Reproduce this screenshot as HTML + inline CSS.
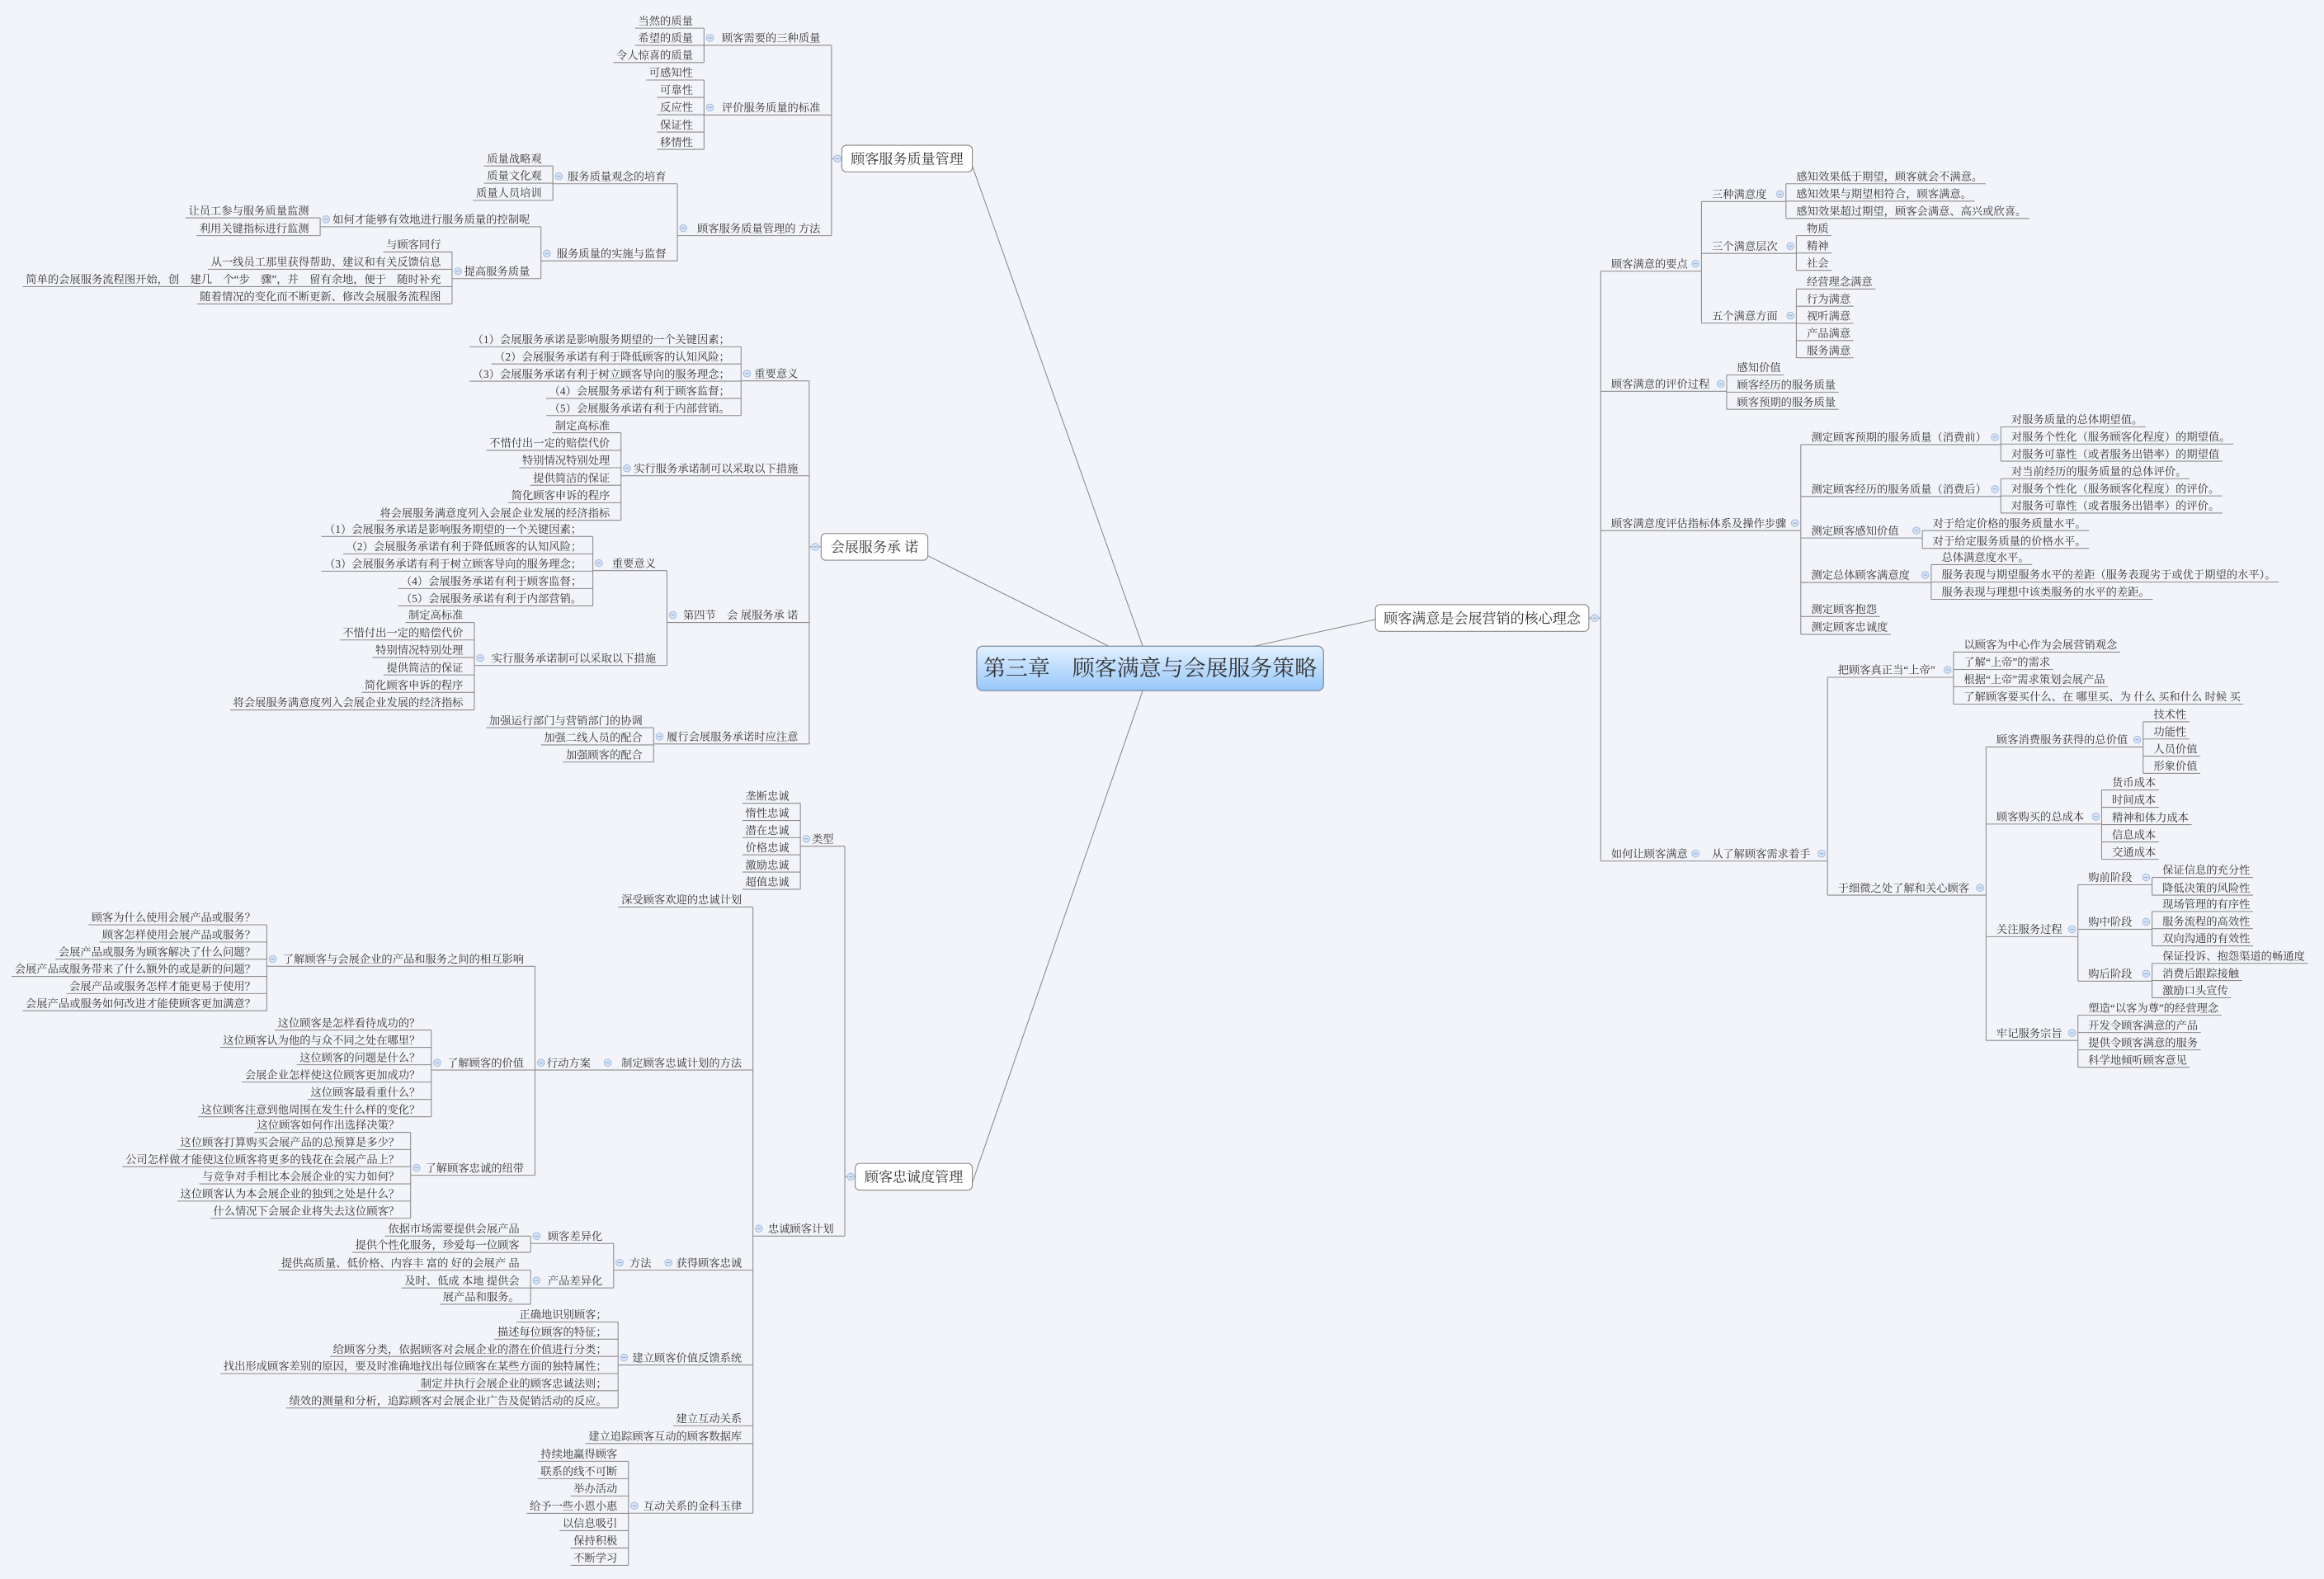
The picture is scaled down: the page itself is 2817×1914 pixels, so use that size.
<!DOCTYPE html>
<html><head><meta charset="utf-8"><style>
html,body{margin:0;padding:0;background:#f3f4f9;}
svg{display:block}
text{font-family:"Liberation Serif","Noto Serif CJK SC",serif;fill:#333;}
</style></head><body>
<svg id="s" width="2817" height="1914" viewBox="0 0 1568 1065.4" xmlns="http://www.w3.org/2000/svg">
<defs><linearGradient id="g" x1="0" y1="0" x2="0" y2="1"><stop offset="0" stop-color="#e2f0ff"/><stop offset="1" stop-color="#98c8fb"/></linearGradient></defs>
<rect width="1568" height="1066" fill="#f3f4f9"/>
<g id="ln" stroke="#8c8c8c" stroke-width="0.6" fill="none">
<line x1="656" y1="112" x2="771" y2="436"/>
<line x1="626" y1="375" x2="748" y2="436"/>
<line x1="656" y1="798" x2="771" y2="466"/>
<line x1="928" y1="418" x2="846" y2="436"/>
</g>
<g id="dt"></g>
<g id="tx" font-size="7.4"></g>
<rect x="659" y="436" width="234" height="30" rx="4" fill="url(#g)" stroke="#7d8ca3" stroke-width="0.7"/>
<text x="776" y="456" font-size="15" text-anchor="middle">第三章　顾客满意与会展服务策略</text>
</svg>
<script>
const NS="http://www.w3.org/2000/svg";
const LN=document.getElementById('ln'),DT=document.getElementById('dt'),TX=document.getElementById('tx'),SV=document.getElementById('s');
function el(p,n,a,t){const e=document.createElementNS(NS,n);for(const k in a)e.setAttribute(k,a[k]);if(t!==undefined)e.textContent=t;p.appendChild(e);return e;}
function line(x1,y1,x2,y2){el(LN,'line',{x1,y1,x2,y2});}
function dot(x,y){el(DT,'circle',{cx:x,cy:y,r:2.4,fill:'#d5e3f8',stroke:'#9fb6d8','stroke-width':0.5});el(DT,'line',{x1:x-1.2,y1:y,x2:x+1.2,y2:y,stroke:'#6f8fc0','stroke-width':0.4});}
function node(side,ax,n){
  const [t,ty,cx,kids]=n;const uy=ty+5;
  const L=side==='L';
  const te=el(TX,'text',{x:L?ax-7.5:ax+7,y:ty+2.6,'text-anchor':L?'end':'start'},t);
  if(kids){
    line(ax,uy,cx,uy);dot(L?cx+4:cx-4,ty);
    let mn=uy,mx=uy;
    kids.forEach(k=>{const ky=k[1]+5;mn=Math.min(mn,ky);mx=Math.max(mx,ky);node(side,cx,k);});
    line(cx,mn,cx,mx);
  }else{
    const w=te.getComputedTextLength();
    if(L)line(ax-7.5-w-2,uy,ax,uy);else line(ax,uy,ax+7+w+2,uy);
  }
}
function shift(n,d){n[1]+=d;if(n[3])n[3].forEach(k=>shift(k,d));return n;}
function box(x,y,w,h,t,side,bx,kids){
  el(SV,'rect',{x,y,width:w,height:h,rx:3,fill:'#fff',stroke:'#888','stroke-width':0.6});
  el(SV,'text',{x:x+w/2,y:y+h/2+3.4,'font-size':9.5,'text-anchor':'middle'},t);
  const cy=y+h/2;const L=side==='L';
  line(L?x:x+w,cy,bx,cy);dot(L?bx+4:bx-4,cy);
  let mn=cy,mx=cy;
  kids.forEach(k=>{const ky=k[1]+5;mn=Math.min(mn,ky);mx=Math.max(mx,ky);node(side,bx,k);});
  line(bx,mn,bx,mx);
}
function seq(arr,y0,dy){return arr.map((t,i)=>[t,y0+i*dy]);}
const imp=()=>["（1）会展服务承诺是影响服务期望的一个关键因素；","（2）会展服务承诺有利于降低顾客的认知风险；","（3）会展服务承诺有利于树立顾客导向的服务理念；","（4）会展服务承诺有利于顾客监督；","（5）会展服务承诺有利于内部营销。"];
const mea=()=>["制定高标准","不惜付出一定的赔偿代价","特别情况特别处理","提供简洁的保证","简化顾客申诉的程序","将会展服务满意度列入会展企业发展的经济指标"];
// A
box(568,98,88,18,"顾客服务质量管理",'L',561,[
 ["顾客需要的三种质量",25.6,475,seq(["当然的质量","希望的质量","令人惊喜的质量"],14,11.6)],
 ["评价服务质量的标准",72.6,475,seq(["可感知性","可靠性","反应性","保证性","移情性"],49,11.7)],
 ["顾客服务质量管理的 方法",154,457,[
  ["服务质量观念的培育",119,373,seq(["质量战略观","质量文化观","质量人员培训"],107,11.6)],
  ["服务质量的实施与监督",171,365,[
   ["如何才能够有效地进行服务质量的控制呢",148,216,[["让员工参与服务质量监测",142],["利用关键指标进行监测",154]]],
   ["提高服务质量",183,305,seq(["与顾客同行","从一线员工那里获得帮助、建议和有关反馈信息","简单的会展服务流程图开始，创　建几　个“步　骤”，并　留有余地，便于　随时补充","随着情况的变化而不断更新、修改会展服务流程图"],165,11.7)]
  ]]
 ]]
]);
// B
box(554,360,72,18,"会展服务承 诺",'L',546,[
 ["重要意义",252,500,seq(imp(),229,11.6)],
 ["实行服务承诺制可以采取以下措施",316,419,seq(mea(),287,11.8)],
 ["第四节　会 展服务承 诺",415,450,[
  ["重要意义",380,400,seq(imp(),357,11.7)],
  ["实行服务承诺制可以采取以下措施",444,320,seq(mea(),415,11.8)]
 ]],
 ["履行会展服务承诺时应注意",497,441,seq(["加强运行部门与营销部门的协调","加强二线人员的配合","加强顾客的配合"],486,11.6)]
]);
// C
box(577,785,79,18,"顾客忠诚度管理",'L',570,[
 ["类型",566,540,seq(["垄断忠诚","惰性忠诚","潜在忠诚","价格忠诚","激励忠诚","超值忠诚"],537,11.6)],
 ["忠诚顾客计划",829,508,[
  ["深受顾客欢迎的忠诚计划",607],
  ["制定顾客忠诚计划的方法",717,406,[
   ["行动方案",717,361,[
    ["了解顾客与会展企业的产品和服务之间的相互影响",647,180,seq(["顾客为什么使用会展产品或服务？","顾客怎样使用会展产品或服务？","会展产品或服务为顾客解决了什么问题？","会展产品或服务带来了什么额外的或是新的问题？","会展产品或服务怎样才能更易于使用？","会展产品或服务如何改进才能使顾客更加满意？"],619,11.6)],
    ["了解顾客的价值",717,291,seq(["这位顾客是怎样看待成功的？","这位顾客认为他的与众不同之处在哪里？","这位顾客的问题是什么？","会展企业怎样使这位顾客更加成功？","这位顾客最看重什么？","这位顾客注意到他周围在发生什么样的变化？"],690,11.7)],
    ["了解顾客忠诚的纽带",788,277,seq(["这位顾客如何作出选择决策？","这位顾客打算购买会展产品的总预算是多少？","公司怎样做才能使这位顾客将更多的钱花在会展产品上？","与竞争对手相比本会展企业的实力如何？","这位顾客认为本会展企业的独到之处是什么？","什么情况下会展企业将失去这位顾客？"],759,11.6)]
   ]]
  ]],
  ["获得顾客忠诚",852,447,[
   ["方法",852,414,[
    ["顾客差异化",834,358,[["依据市场需要提供会展产品",829],["提供个性化服务，珍爱每一位顾客",840]]],
    ["产品差异化",864,358,[["提供高质量、低价格、内容丰 富的 好的会展产 品",852],["及时、低成 本地 提供会",864],["展产品和服务。",875]]]
   ]]
  ]],
  ["建立顾客价值反馈系统",916,417,seq(["正确地识别顾客；","描述每位顾客的特征；","给顾客分类，依据顾客对会展企业的潜在价值进行分类；","找出形成顾客差别的原因，要及时准确地找出每位顾客在某些方面的独特属性；","制定并执行会展企业的顾客忠诚法则；","绩效的测量和分析，追踪顾客对会展企业广告及促销活动的反应。"],887,11.6)],
  ["建立互动关系",957],
  ["建立追踪顾客互动的顾客数据库",969],
  ["互动关系的金科玉律",1016,424,seq(["持续地赢得顾客","联系的线不可断","举办活动","给予一些小恩小惠","以信息吸引","保持积极","不断学习"],981,11.7)]
 ]]
]);
// D
box(928,408,144,18,"顾客满意是会展营销的核心理念",'R',1080,[
 ["顾客满意的要点",173,1148,[
  ["三种满意度",126,1205,seq(["感知效果低于期望，顾客就会不满意。","感知效果与期望相符合，顾客满意。","感知效果超过期望，顾客会满意、高兴或欣喜。"],114,11.7)],
  ["三个满意层次",161,1212,seq(["物质","精神","社会"],149,11.7)],
  ["五个满意方面",208,1212,seq(["经营理念满意","行为满意","视听满意","产品满意","服务满意"],185,11.6)]
 ]],
 ["顾客满意的评价过程",254,1165,seq(["感知价值","顾客经历的服务质量","顾客预期的服务质量"],243,11.6)],
 ["顾客满意度评估指标体系及操作步骤",348,1215,[
  ["测定顾客预期的服务质量（消费前）",290,1350,seq(["对服务质量的总体期望值。","对服务个性化（服务顾客化程度）的期望值。","对服务可靠性（或者服务出错率）的期望值"],278,11.6)],
  ["测定顾客经历的服务质量（消费后）",325,1350,seq(["对当前经历的服务质量的总体评价。","对服务个性化（服务顾客化程度）的评价。","对服务可靠性（或者服务出错率）的评价。"],313,11.6)],
  ["测定顾客感知价值",353,1297,[["对于给定价格的服务质量水平。",348],["对于给定服务质量的价格水平。",360]]],
  ["测定总体顾客满意度",383,1303,seq(["总体满意度水平。","服务表现与期望服务水平的差距（服务表现劣于或优于期望的水平）。","服务表现与理想中该类服务的水平的差距。"],371,11.7)],
  ["测定顾客抱怨",406],
  ["测定顾客忠诚度",418]
 ]],
 ["如何让顾客满意",571,1148,[
  ["从了解顾客需求着手",571,1233,[
   ["把顾客真正当“上帝”",447,1318,seq(["以顾客为中心作为会展营销观念","了解“上帝”的需求","根据“上帝”需求策划会展产品","了解顾客要买什么、在 哪里买、为 什么 买和什么 时候 买"],430,11.7)],
   ["于细微之处了解和关心顾客",594,1340,[
    ["顾客消费服务获得的总价值",494,1446,seq(["技术性","功能性","人员价值","形象价值"],477,11.6)],
    ["顾客购买的总成本",546,1418,seq(["货币成本","时间成本","精神和体力成本","信息成本","交通成本"],523,11.7)],
    ["关注服务过程",622,1402,[
     ["购前阶段",587,1452,[["保证信息的充分性",582],["降低决策的风险性",594]]],
     ["购中阶段",617,1452,seq(["现场管理的有序性","服务流程的高效性","双向沟通的有效性"],605,11.6)],
     ["购后阶段",652,1452,seq(["保证投诉、抱怨渠道的畅通度","消费后跟踪接触","激励口头宣传"],640,11.6)]
    ]],
    ["牢记服务宗旨",692,1402,seq(["塑造“以客为尊”的经营理念","开发令顾客满意的产品","提供令顾客满意的服务","科学地倾听顾客意见"],675,11.7)]
   ]]
  ]]
 ]]
].map(n=>shift(n,5)));
</script>
</body></html>
